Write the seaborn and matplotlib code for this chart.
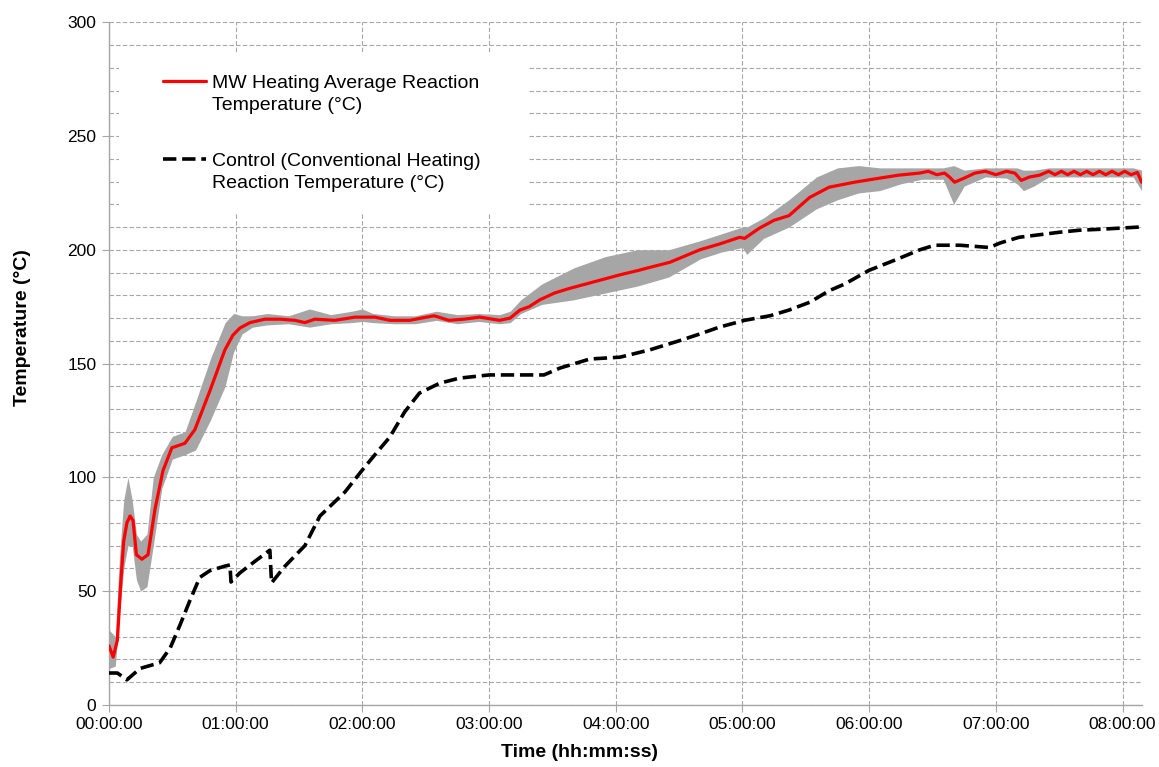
import numpy as np
import seaborn as sns
import matplotlib.pyplot as plt
from matplotlib.patches import Rectangle
from matplotlib.ticker import MultipleLocator, FuncFormatter

# MW heating average reaction temperature (time in minutes)
mw_time = [0, 2, 4, 5.7, 7, 8.5, 10, 11.4, 13, 15.6,
           18.5, 21.8, 25.6, 29.8, 33, 36, 40.7, 47.8, 54.9, 58.7,
           62, 66.8, 73.8, 81, 88, 92.8, 97.5, 107, 116.5, 126,
           133, 142.5, 148, 154, 161, 168, 175.6, 185, 190, 194.6,
           199, 204, 211, 218, 232.4, 242, 251, 255, 265.6, 279.8,
           289, 298.7, 301, 308, 315, 322, 331.8, 341, 353, 365,
           374, 383.8, 388, 392, 395.7, 398, 400.4, 405, 410, 415,
           420, 425, 429, 432, 436, 440.7, 445, 448, 451, 454,
           457, 460, 463, 466, 469, 472, 475, 478, 481, 484,
           487, 489]
mw_temp = [26, 21, 28.5, 55, 72, 80, 83, 81, 66, 64,
           66, 86, 103, 113, 114, 115, 121, 138, 156, 162.5,
           165.6, 168, 169.5, 169.5, 169, 168, 169.5, 169, 170.4, 170.4,
           169, 169, 170, 171, 169, 169.5, 170.4, 169, 170, 173.5,
           175, 178, 181, 183, 186.6, 189, 191, 192, 194.5, 200,
           202.5, 205.5, 205, 209.5, 213, 215, 223, 227.5, 229.7, 231.5,
           232.8, 233.7, 234.5, 233, 233.7, 232, 229.7, 231.5, 233.7, 234.5,
           233, 234.5, 233.7, 230.5, 232, 232.8, 234.5, 233, 234.5, 233,
           234.5, 233, 234.5, 233, 234.5, 233, 234.5, 233, 234.5, 233,
           234, 229.7]

# spread of the MW runs (grey band)
band_time = [0, 3, 5, 7, 9, 11, 13, 15, 18, 21,
             25, 30, 36, 41, 48, 55, 59, 63, 68, 75,
             85, 95, 105, 115, 120, 125, 135, 145, 155, 165,
             175, 185, 190, 195, 205, 220, 235, 250, 265, 280,
             290, 300, 302, 310, 322, 335, 345, 355, 365, 375,
             385, 395, 400, 405, 415, 425, 430, 433, 438, 445,
             460, 475, 485, 489]
band_low = [16, 17, 40, 60, 70, 70, 55, 50, 52, 70,
            95, 108, 110, 112, 125, 140, 155, 163, 166, 167,
            167.5, 166, 167.5, 168, 168.5, 168, 167.5, 167.5, 169, 167.5,
            168.5, 167.5, 168, 172, 176, 178, 181, 184, 188, 196,
            199, 201, 198, 205, 210, 218, 222, 225, 226, 229,
            231, 231, 220, 228, 232, 231.5, 229, 226, 228, 232,
            232, 232, 232, 226]
band_high = [33, 30, 65, 90, 100, 90, 75, 72, 75, 100,
             110, 118, 120, 133, 152, 168, 172, 171, 171, 172,
             171, 174, 171.5, 173, 174, 172, 171, 171, 173, 171.5,
             172, 171.5, 173, 178, 185, 192, 197, 200, 200, 204,
             207, 210, 210, 214, 222, 232, 236, 237, 236, 236,
             236, 236, 237, 235, 236, 236, 236, 235, 235, 236,
             236, 236, 236, 235]

# control (conventional heating)
ctrl_time = [0, 4, 8.5, 14.7, 24, 29, 33.6, 38.4, 43, 47.8,
             55, 57.3, 57.8, 62, 69, 76.2, 77, 83, 92.8, 99.9,
             111.7, 119.8, 126, 133, 140, 147, 156.7, 166, 180, 194.6,
             206, 213.5, 227.7, 242, 256, 270, 279.8, 289, 301, 313,
             322, 332, 341, 348.5, 360, 372, 384, 391, 403, 417,
             422, 431, 450, 459.6, 469, 488]
ctrl_temp = [14, 14, 11, 16, 18.5, 25, 35, 46, 56, 59,
             61, 61.5, 54, 58, 63, 68, 53.6, 60.6, 70, 83,
             93.5, 103, 110, 117.7, 128.7, 137, 141.4, 143.6, 145, 145,
             145, 148, 152, 152.8, 156, 160, 163, 166, 169, 171,
             173.5, 177, 182, 185, 191, 195.4, 200, 202, 202, 201,
             203, 205.5, 207.7, 208.6, 209, 210]

mw_label = "MW Heating Average Reaction\nTemperature (°C)"
ctrl_label = "Control (Conventional Heating)\nReaction Temperature (°C)"

sns.set_style("white")
plt.rcParams['font.family'] = ['Liberation Sans', 'DejaVu Sans']
plt.rcParams['text.color'] = 'black'

fig = plt.figure(figsize=(11.59, 7.67), dpi=100)
ax = fig.add_axes([0.094, 0.081, 0.891, 0.890])

ax.fill_between(band_time, band_low, band_high, color='#A6A6A6', lw=0, zorder=2)
sns.lineplot(x=mw_time, y=mw_temp, ax=ax, color='red', lw=2.3, estimator=None,
             sort=False, label=mw_label, zorder=3)
sns.lineplot(x=ctrl_time, y=ctrl_temp, ax=ax, color='black', lw=2.6, estimator=None,
             sort=False, linestyle='--', dashes=(2.8, 1.6), label=ctrl_label, zorder=3)

ax.set_xlim(0, 489)
ax.set_ylim(0, 300)
ax.xaxis.set_major_locator(MultipleLocator(60))
ax.xaxis.set_major_formatter(FuncFormatter(lambda v, p: f"{int(v // 60):02d}:{int(v % 60):02d}:00"))
ax.yaxis.set_major_locator(MultipleLocator(50))
ax.yaxis.set_minor_locator(MultipleLocator(10))

grid_kw = dict(color='#A6A6A6', lw=0.8, linestyle=(0, (4, 2)))
ax.grid(True, which='major', axis='x', **grid_kw)
ax.grid(True, which='both', axis='y', **grid_kw)
ax.set_axisbelow(True)

for s in ['top', 'right']:
    ax.spines[s].set_visible(False)
for s in ['left', 'bottom']:
    ax.spines[s].set_color('#A6A6A6')
    ax.spines[s].set_linewidth(1.0)

ax.tick_params(axis='both', which='major', labelsize=12.5, length=5, color='#A6A6A6',
               labelcolor='black', direction='out', left=True, bottom=True, pad=4)
ax.tick_params(axis='y', which='minor', length=0)

ax.set_xlabel("Time (hh:mm:ss)", fontsize=14, fontweight='bold', color='black')
ax.set_ylabel("Temperature (°C)", fontsize=14, fontweight='bold', color='black')
ax.xaxis.set_label_coords(0.456, -0.057)
ax.yaxis.set_label_coords(-0.075, 0.553)

# white box behind legend
ax.add_patch(Rectangle((0.0097, 0.720), 0.396, 0.236, transform=ax.transAxes,
                       facecolor='white', edgecolor='none', zorder=2.5))
leg_fs = 14
leg_ls = 1.38
leg = ax.legend(loc='upper left', bbox_to_anchor=(0.0523, 0.922), frameon=False,
                fontsize=leg_fs, handlelength=2.2, handletextpad=0.3, labelspacing=2.0,
                borderpad=0, borderaxespad=0)
for t in leg.get_texts():
    t.set_linespacing(leg_ls)
# put the legend keys level with the first line of each label
for line in leg.get_lines():
    yd = line.get_ydata()
    line.set_ydata([v + leg_ls * leg_fs / 2 for v in yd])

fig.savefig("out.png", dpi=100)
